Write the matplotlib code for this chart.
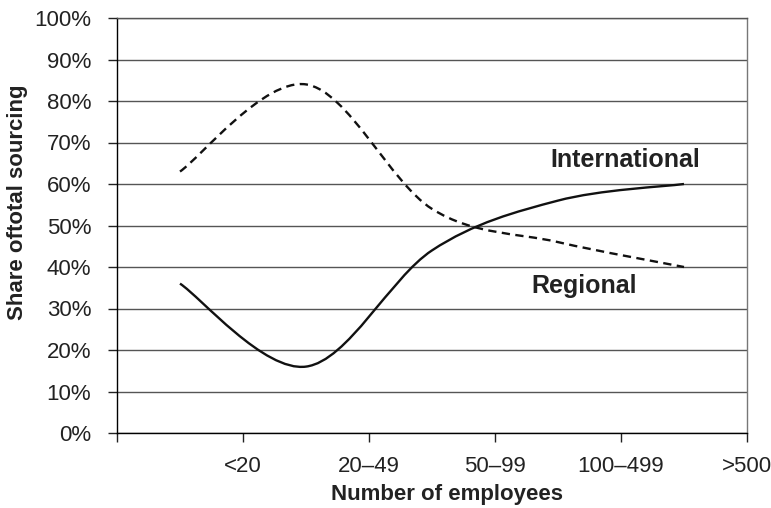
import matplotlib
matplotlib.use('Agg')
import matplotlib.pyplot as plt
from matplotlib.path import Path
from matplotlib.patches import PathPatch
from matplotlib.ticker import FuncFormatter

plt.rcParams['font.family'] = ['Liberation Sans', 'DejaVu Sans']

# categories sit at the centre of each slot, labels at the slot edges
categories = ['<20', '20–49', '50–99', '100–499', '>500']
x_pos = [0.5, 1.5, 2.5, 3.5, 4.5]
regional = [0.63, 0.84, 0.54, 0.46, 0.40]
international = [0.36, 0.16, 0.44, 0.56, 0.60]


def smooth_path(xs, ys):
    # Catmull-Rom style bezier, close to the "smoothed line" of a spreadsheet
    verts = [(xs[0], ys[0])]
    codes = [Path.MOVETO]
    n = len(xs)
    for i in range(n - 1):
        x0, y0 = (xs[i - 1], ys[i - 1]) if i > 0 else (xs[i], ys[i])
        x1, y1 = xs[i], ys[i]
        x2, y2 = xs[i + 1], ys[i + 1]
        x3, y3 = (xs[i + 2], ys[i + 2]) if i + 2 < n else (x2, y2)
        c1 = (x1 + (x2 - x0) / 6.0, y1 + (y2 - y0) / 6.0)
        c2 = (x2 - (x3 - x1) / 6.0, y2 - (y3 - y1) / 6.0)
        verts += [c1, c2, (x2, y2)]
        codes += [Path.CURVE4] * 3
    return Path(verts, codes)


fig = plt.figure(figsize=(7.71, 5.08), dpi=100)
ax = fig.add_axes([117 / 771, 75 / 508, 630 / 771, 415 / 508])

ax.set_xlim(0, 5)
ax.set_ylim(0, 1)
ax.set_yticks([i / 10 for i in range(11)])
ax.yaxis.set_major_formatter(FuncFormatter(lambda v, p: '%d%%' % round(v * 100)))
ax.set_xticks(range(6))
ax.set_xticklabels([''] + categories)
ax.grid(axis='y', color='#555555', linewidth=1.0)
ax.set_axisbelow(True)

ax.tick_params(axis='both', labelsize=16, colors='#222222', length=6.5, width=1)
ax.tick_params(axis='x', pad=10)
ax.tick_params(axis='y', pad=12)
for lab in ax.get_xticklabels() + ax.get_yticklabels():
    lab.set_color('#222222')

ax.spines['left'].set_color('black')
ax.spines['bottom'].set_color('black')
ax.spines['right'].set_color('#777777')
ax.spines['top'].set_color('#555555')
for s in ax.spines.values():
    s.set_linewidth(1.0)

ax.add_patch(PathPatch(smooth_path(x_pos, regional), facecolor='none',
                       edgecolor='#111111', linewidth=1.7, linestyle=(0, (3.5, 2.3)),
                       capstyle='butt'))
ax.add_patch(PathPatch(smooth_path(x_pos, international), facecolor='none',
                       edgecolor='#111111', linewidth=1.7))

ax.text(3.44, 0.658, 'International', fontsize=18, fontweight='bold', color='#222222',
        va='center')
ax.text(3.29, 0.354, 'Regional', fontsize=18, fontweight='bold', color='#222222',
        va='center')

ax.set_xlabel('Number of employees', fontsize=16, fontweight='bold', color='#222222')
ax.set_ylabel('Share oftotal sourcing', fontsize=16, fontweight='bold', color='#222222')
ax.xaxis.set_label_coords(0.524, -0.122)
ax.yaxis.set_label_coords(-0.142, 0.557)

fig.savefig('out.png', dpi=100)
